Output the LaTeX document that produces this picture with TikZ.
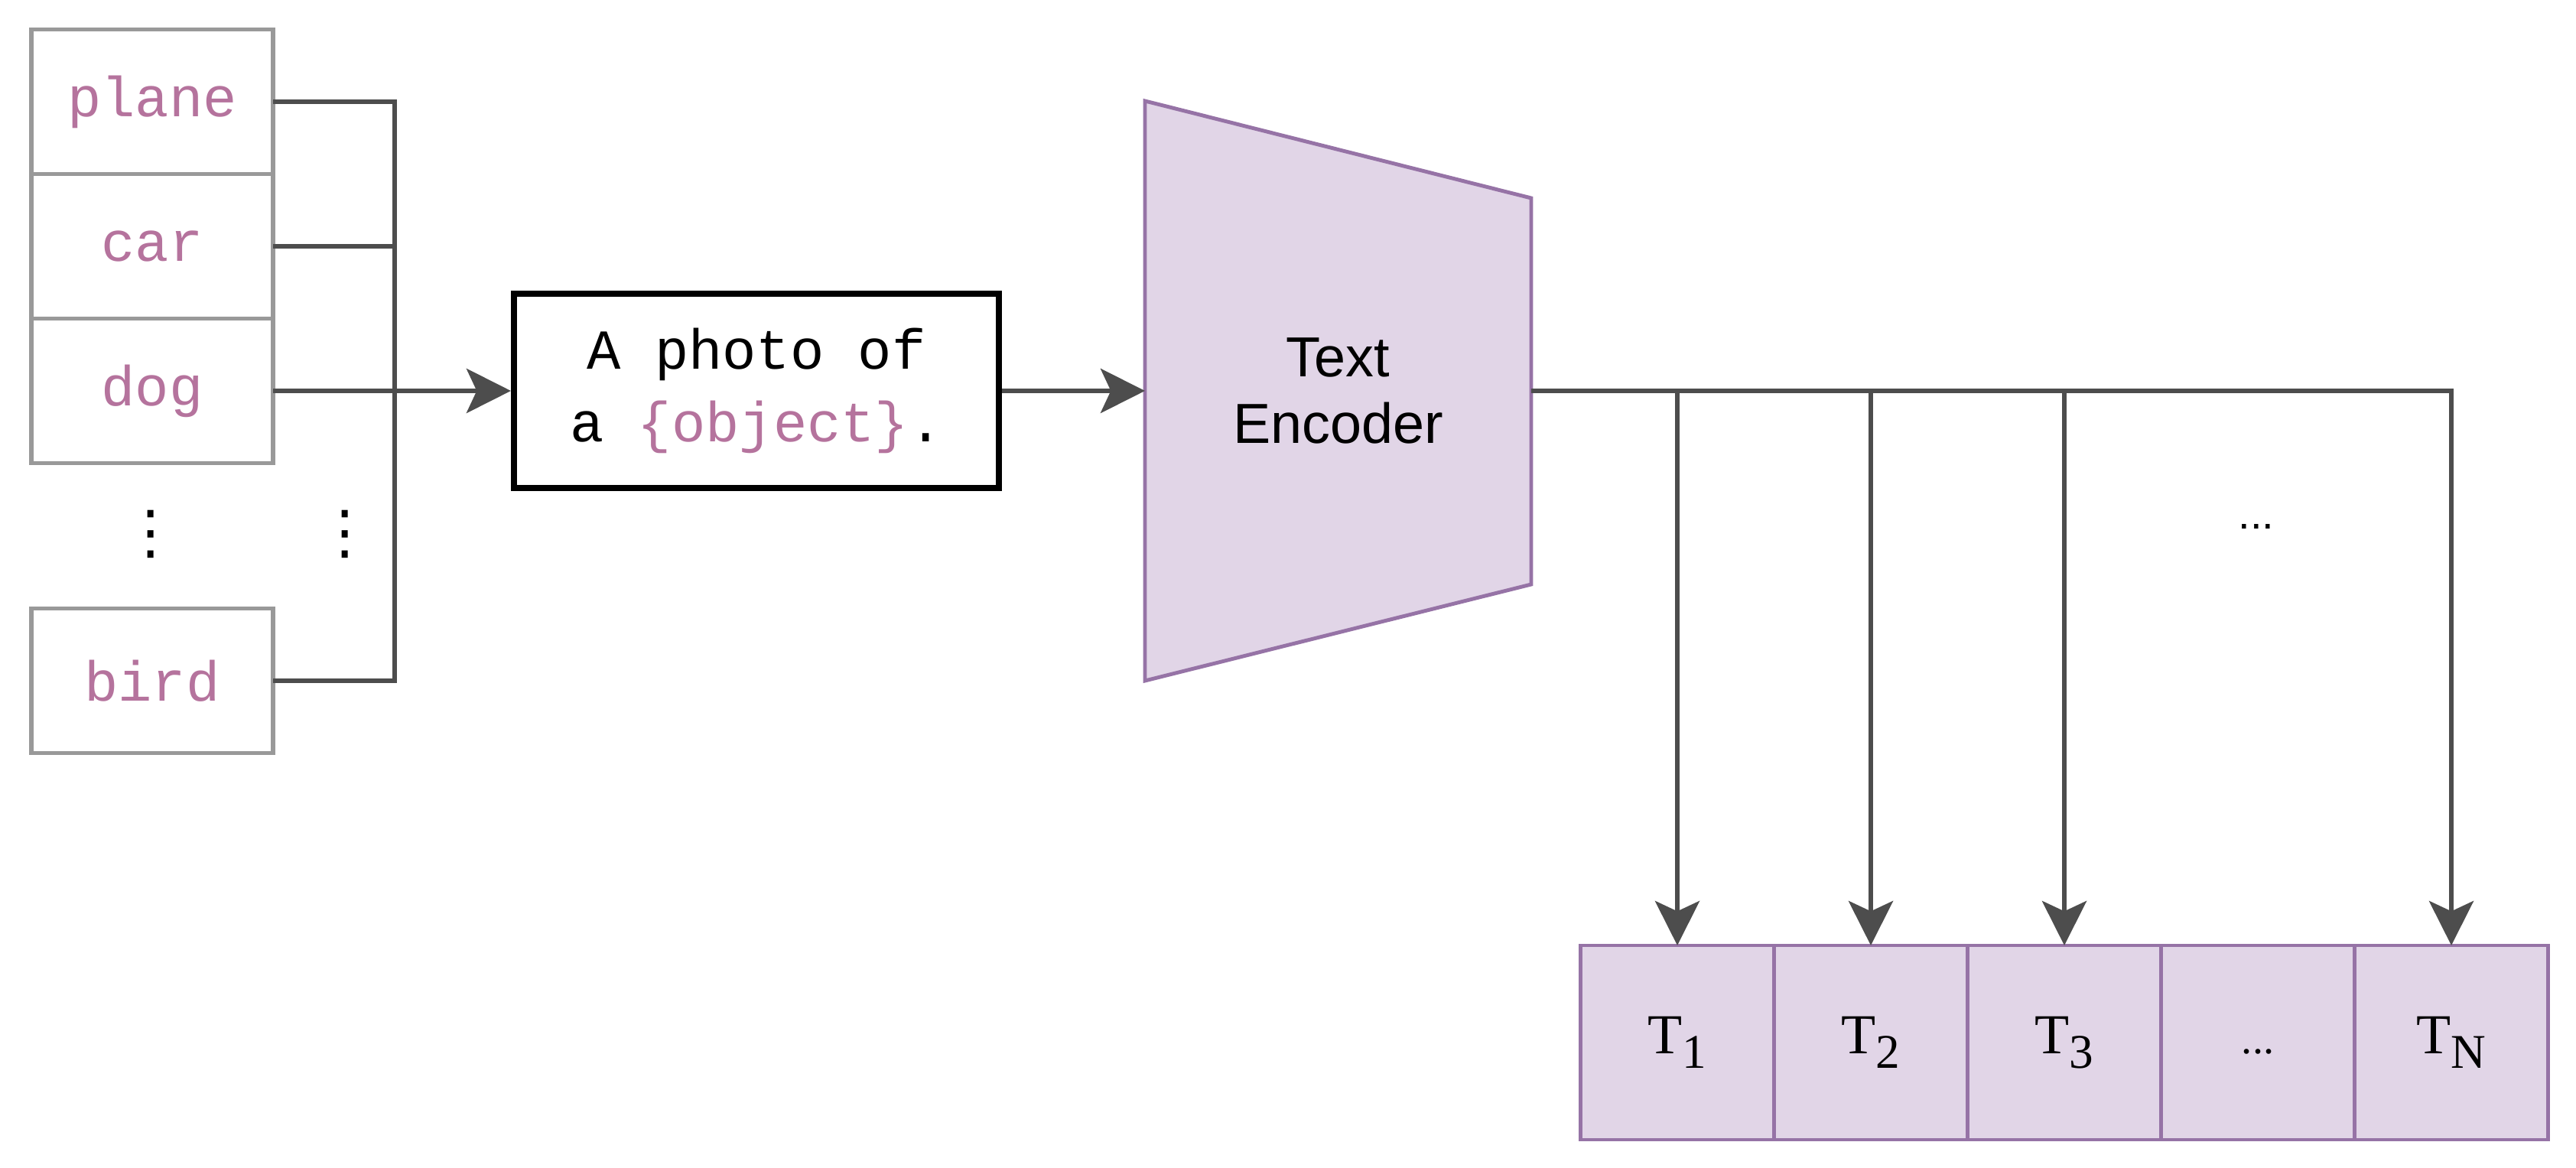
\documentclass[tikz,border=0pt]{standalone}
\usepackage{fontspec}
\setmainfont{Liberation Serif}
\setsansfont{Liberation Sans}
\setmonofont{Liberation Mono}
\newfontfamily\vdotsfont{DejaVu Sans}
\usepackage{tikz}
\usetikzlibrary{positioning, backgrounds, arrows.meta}
\definecolor{wordpink}{HTML}{B5739D}
\definecolor{boxgray}{HTML}{999999}
\definecolor{linegray}{HTML}{4D4D4D}
\definecolor{encfill}{HTML}{E1D5E7}
\definecolor{encline}{HTML}{9673A6}
\tikzset{
	wordbox/.style={draw=boxgray, line width=1.6pt, minimum width=3.16cm, minimum height=1.89cm,
	  inner sep=0pt, outer sep=0pt, font=\fontsize{21}{21}\selectfont\ttfamily, text=wordpink}
}
\tikzset{
	tokbox/.style={draw=encline, fill=encfill, line width=1.3pt, minimum width=2.53cm, minimum height=2.54cm,
	  inner sep=0pt, outer sep=0pt, text height=13.9pt, text depth=5.6pt, font=\fontsize{21}{21}\selectfont\rmfamily}
}
\tikzset{
	conn/.style={draw=linegray, line width=1.8pt}
}
\tikzset{
	vdotstext/.style={font=\fontsize{22}{22}\selectfont\vdotsfont}
}
\newcommand{\tsub}[1]{\raisebox{-5.5pt}{\fontsize{18}{18}\selectfont #1}}

\begin{document}
\begin{tikzpicture}[>={Stealth[length=16.5pt, width=16.5pt, inset=3.8pt]}]
      \useasboundingbox (0,0) rectangle (33.68,15.27);
      % class names
      \node[wordbox] (plane) at (1.99,13.94) {plane};
      \node[wordbox, below=0pt of plane] (car) {car};
      \node[wordbox, below=0pt of car] (dog) {dog};
      \node[wordbox] (bird) at (1.99,6.37) {bird};
      \node[vdotstext] (vdl) at (1.97,8.29) {⋮};
      \node[vdotstext] (vdr) at (4.51,8.29) {⋮};
      % bus into the prompt
      \coordinate (bus) at (5.16,10.16);
      \draw[conn] (plane.east) -- (plane.east -| bus) -- (bird.east -| bus) -- (bird.east);
      \draw[conn] (car.east) -- (car.east -| bus);
      \draw[conn] (dog.east) -- (bus);
      % prompt template
      \node[draw=black, line width=2.3pt, minimum width=6.34cm, minimum height=2.54cm, align=center,
        font=\fontsize{21}{27}\selectfont\ttfamily] (prompt) at (9.89,10.16)
        {A photo of\\a {\color{wordpink}\{object\}}.};
      \draw[conn, ->] (bus) -- (prompt.west);
      % encoder
      \node[align=center, minimum width=5.05cm, minimum height=7.58cm, inner sep=0pt, outer sep=0pt,
        font=\fontsize{21}{24.6}\selectfont\sffamily] (enc) at (17.495,10.16) {Text\\Encoder};
      \begin{scope}[on background layer]
        \draw[draw=encline, fill=encfill, line width=1.4pt] (enc.north west) -- ([yshift=-1.27cm]enc.north east)
          -- ([yshift=1.26cm]enc.south east) -- (enc.south west) -- cycle;
      \end{scope}
      \draw[conn, ->] (prompt.east) -- (enc.west);
      % text features
      \node[tokbox] (t1) at (21.93,1.64) {T\tsub{1}};
      \node[tokbox, right=0pt of t1] (t2) {T\tsub{2}};
      \node[tokbox, right=0pt of t2] (t3) {T\tsub{3}};
      \node[tokbox, right=0pt of t3] (tdots) {\fontsize{16}{16}\selectfont ...};
      \node[tokbox, right=0pt of tdots] (tn) {T\tsub{N}};
      \draw[conn, ->] (enc.east) -| (tn.north);
      \foreach \t in {t1,t2,t3}
        \draw[conn, ->] (\t.north |- enc.east) -- (\t.north);
      \node[font=\fontsize{16}{16}\selectfont\sffamily] (odots) at (29.50,8.38) {...};
    \end{tikzpicture}
\end{document}
